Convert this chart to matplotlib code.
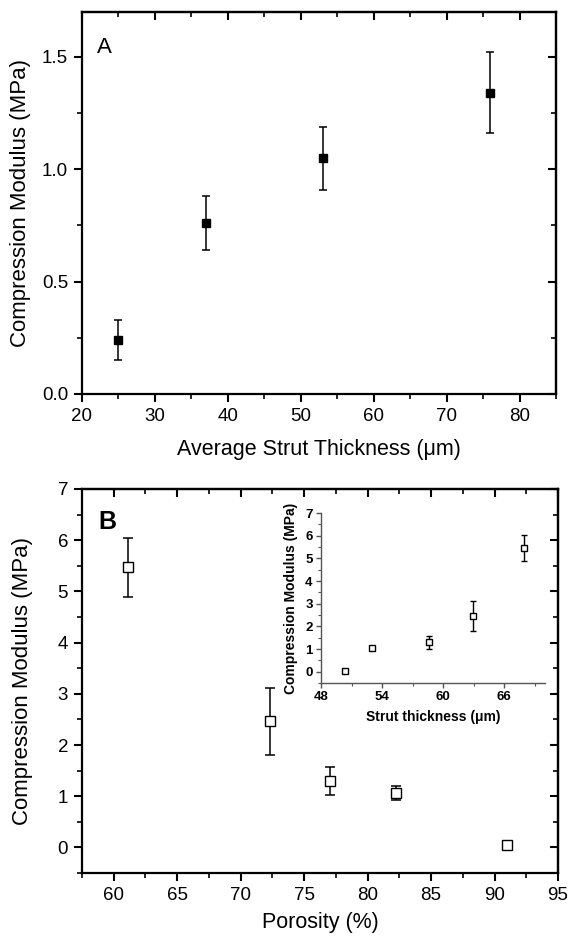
import numpy as np
import matplotlib
matplotlib.use('Agg')
import matplotlib.pyplot as plt
from matplotlib.ticker import MultipleLocator

plt.rcParams['font.family'] = ['Liberation Sans', 'DejaVu Sans']

# Panel A data
strut_a = [25, 37, 53, 76]
mod_a = [0.24, 0.76, 1.05, 1.34]
err_a = [0.09, 0.12, 0.14, 0.18]

# Panel B data
porosity = [61.15, 72.3, 77.0, 82.25, 91.0]
mod_b = [5.47, 2.46, 1.30, 1.06, 0.05]
err_b = [0.57, 0.66, 0.28, 0.14, 0.06]

# Inset data
strut_in = [50.4, 53.0, 58.6, 62.9, 67.9]
mod_in = [0.05, 1.04, 1.30, 2.46, 5.47]
err_in = [0.05, 0.10, 0.28, 0.66, 0.58]

W, H = 569, 939
fig = plt.figure(figsize=(W / 100, H / 100), dpi=100)


def frame(ax, xmaj, xmin, ymaj, ymin):
    for s in ax.spines.values():
        s.set_linewidth(1.6)
    ax.xaxis.set_major_locator(MultipleLocator(xmaj))
    ax.xaxis.set_minor_locator(MultipleLocator(xmin))
    ax.yaxis.set_major_locator(MultipleLocator(ymaj))
    ax.yaxis.set_minor_locator(MultipleLocator(ymin))
    ax.tick_params(which='major', direction='out', length=6, width=1.5,
                   labelsize=13.5, pad=4)
    ax.tick_params(which='minor', direction='out', length=3.5, width=1.2)
    # mirrored ticks pointing inward on top / right
    top = ax.secondary_xaxis('top')
    top.xaxis.set_major_locator(MultipleLocator(xmaj))
    top.xaxis.set_minor_locator(MultipleLocator(xmin))
    top.tick_params(which='major', direction='in', length=6, width=1.5,
                    labeltop=False)
    top.tick_params(which='minor', direction='in', length=3.5, width=1.2)
    right = ax.secondary_yaxis('right')
    right.yaxis.set_major_locator(MultipleLocator(ymaj))
    right.yaxis.set_minor_locator(MultipleLocator(ymin))
    right.tick_params(which='major', direction='in', length=6, width=1.5,
                      labelright=False)
    right.tick_params(which='minor', direction='in', length=3.5, width=1.2)
    for s in list(top.spines.values()) + list(right.spines.values()):
        s.set_linewidth(1.6)


# %% Panel A
ax1 = fig.add_axes([82 / W, 1 - 394 / H, (556 - 82) / W, (394 - 12) / H])
ax1.errorbar(strut_a, mod_a, yerr=err_a, fmt='s', color='black',
             markersize=5.5, elinewidth=1.1, capsize=3, capthick=1.1)
ax1.set_xlim(20, 85)
ax1.set_ylim(0, 1.7)
frame(ax1, 10, 5, 0.5, 0.25)
ax1.yaxis.set_major_formatter(plt.FormatStrFormatter('%.1f'))
ax1.set_xlabel('Average Strut Thickness (\u03bcm)', fontsize=15.5, labelpad=10)
ax1.set_ylabel('Compression Modulus (MPa)', fontsize=16, labelpad=8)
ax1.text(0.032, 0.935, 'A', transform=ax1.transAxes, fontsize=16,
         va='top', ha='left')

# %% Panel B
ax2 = fig.add_axes([82 / W, 1 - 873 / H, (558 - 82) / W, (873 - 489) / H])
ax2.errorbar(porosity, mod_b, yerr=err_b, fmt='s', color='black',
             mfc='white', markersize=6.5, elinewidth=1.1, capsize=3.3,
             capthick=1.1)
ax2.set_xlim(57.5, 95)
ax2.set_ylim(-0.5, 7)
frame(ax2, 5, 2.5, 1, 0.5)
ax2.set_xlabel('Porosity (%)', fontsize=15.5, labelpad=6)
ax2.set_ylabel('Compression Modulus (MPa)', fontsize=16, labelpad=18)
ax2.text(0.034, 0.914, 'B', transform=ax2.transAxes, fontsize=18,
         fontweight='bold', va='center', ha='left')

# %% Inset
ax3 = fig.add_axes([321 / W, 1 - 683 / H, (545 - 321) / W, (683 - 513) / H])
ax3.errorbar(strut_in, mod_in, yerr=err_in, fmt='s', color='black',
             mfc='white', markersize=4.2, elinewidth=1.0, capsize=2.2,
             capthick=1.0)
ax3.set_xlim(48, 70)
ax3.set_ylim(-0.5, 7)
ax3.spines['top'].set_visible(False)
ax3.spines['right'].set_visible(False)
for s in ['left', 'bottom']:
    ax3.spines[s].set_color('#555555')
    ax3.spines[s].set_linewidth(1.0)
ax3.xaxis.set_major_locator(MultipleLocator(6))
ax3.xaxis.set_minor_locator(MultipleLocator(3))
ax3.yaxis.set_major_locator(MultipleLocator(1))
ax3.yaxis.set_minor_locator(MultipleLocator(0.5))
ax3.tick_params(which='major', direction='out', length=3.5, width=1.0,
                color='#555555', labelsize=9.5, pad=2.5)
ax3.tick_params(which='minor', direction='out', length=2, width=0.8,
                color='#555555')
for lbl in ax3.get_xticklabels() + ax3.get_yticklabels():
    lbl.set_fontweight('bold')
ax3.set_xlabel('Strut thickness (\u03bcm)', fontsize=10, fontweight='bold',
               labelpad=5)
ax3.set_ylabel('Compression Modulus (MPa)', fontsize=10, fontweight='bold',
               labelpad=5)

fig.savefig('out.png', dpi=100)
